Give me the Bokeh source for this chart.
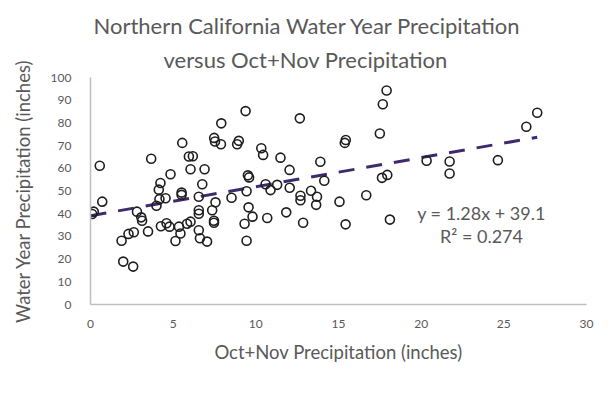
from bokeh.plotting import figure
from bokeh.models import Range1d, FixedTicker, Label, ColumnDataSource, Title
from bokeh.embed import file_html
from bokeh.resources import INLINE

# Oct+Nov precipitation (inches)
oct_nov = [0.10, 0.20, 0.56, 0.71, 1.88, 1.98, 2.30, 2.62, 2.58, 2.81,
           3.07, 3.12, 3.48, 3.67, 3.99, 4.17, 4.13, 4.23, 4.54, 4.26,
           4.60, 4.78, 4.84, 5.14, 5.35, 5.44, 5.51, 5.51, 5.55, 5.84,
           6.05, 6.05, 5.95, 6.19, 6.55, 6.55, 6.55, 6.55, 6.62, 6.76,
           6.90, 7.05, 7.36, 7.56, 7.47, 7.47, 7.48, 7.53, 7.89, 7.91,
           8.53, 8.87, 8.97, 9.38, 9.44, 9.52, 9.59, 9.56, 9.80, 9.32,
           9.44, 10.33, 10.44, 10.59, 10.69, 10.89, 11.29, 11.49, 11.84, 12.04,
           12.05, 12.66, 12.70, 12.70, 12.86, 13.34, 13.70, 13.65, 13.90, 14.14,
           15.06, 15.38, 15.44, 15.43, 16.68, 17.50, 17.63, 17.95, 17.68, 17.91,
           18.11, 20.33, 21.72, 21.72, 24.64, 26.36, 27.02]
# Water year precipitation (inches)
water_year = [39.9, 40.9, 61.1, 45.3, 28.1, 18.9, 31.1, 31.8, 16.7, 40.9,
              38.4, 36.9, 32.2, 64.2, 43.5, 46.4, 50.6, 53.5, 46.8, 34.5,
              35.8, 34.3, 57.4, 28.0, 34.3, 31.3, 48.3, 49.3, 71.2, 35.6,
              36.5, 59.6, 65.2, 65.3, 47.5, 41.5, 40.0, 32.7, 29.2, 53.0,
              59.6, 27.7, 41.5, 45.0, 36.9, 36.0, 73.4, 71.8, 70.6, 79.8,
              47.0, 70.6, 72.1, 85.2, 49.9, 56.9, 56.0, 42.8, 38.7, 35.6,
              28.1, 68.8, 65.9, 53.0, 38.1, 50.4, 52.7, 64.7, 40.6, 59.3,
              51.4, 82.0, 47.9, 45.9, 36.0, 50.1, 47.5, 43.9, 62.9, 54.5,
              45.3, 71.2, 72.5, 35.3, 48.1, 75.3, 55.8, 57.1, 88.2, 94.3,
              37.4, 63.3, 63.0, 57.7, 63.6, 78.3, 84.5]

slope = 1.28
intercept = 39.1
x_ticks = [0, 5, 10, 15, 20, 25, 30]
y_ticks = [0, 10, 20, 30, 40, 50, 60, 70, 80, 90, 100]
title_lines = ["Northern California Water Year Precipitation",
               "versus Oct+Nov Precipitation"]
eq_lines = ["y = 1.28x + 39.1", "R\u00b2 = 0.274"]

FONT = "Lato"
GRAY = "#595959"

p = figure(width=596, height=384, output_backend="svg", toolbar_location=None,
           x_range=Range1d(0, 30), y_range=Range1d(0, 100),
           min_border_left=90, min_border_right=10,
           min_border_top=77, min_border_bottom=80)
p.outline_line_color = None
p.xgrid.grid_line_color = None
p.ygrid.grid_line_color = None
p.background_fill_color = "white"
p.border_fill_color = "white"

# two-line title: the default title holds the top line, the added one sits below it
p.title.text = title_lines[0]
p.title.align = "left"
p.title.offset = 3
p.title.standoff = 0
p.title.text_font = FONT
p.title.text_font_size = "22px"
p.title.text_font_style = "normal"
p.title.text_color = GRAY
p.add_layout(Title(text=title_lines[1], align="left", offset=73, standoff=10,
                   text_font=FONT, text_font_size="22px",
                   text_font_style="normal", text_color=GRAY), "above")

for ax, ticks in ((p.xaxis[0], x_ticks), (p.yaxis[0], y_ticks)):
    ax.ticker = FixedTicker(ticks=ticks)
    ax.axis_line_color = "#bfbfbf"
    ax.axis_line_width = 1.5
    ax.major_tick_line_color = None
    ax.minor_tick_line_color = None
    ax.major_label_text_font = FONT
    ax.major_label_text_font_size = "12px"
    ax.major_label_text_color = GRAY
    ax.axis_label_text_font = FONT
    ax.axis_label_text_font_size = "18.5px"
    ax.axis_label_text_color = GRAY
    ax.axis_label_text_font_style = "normal"

p.xaxis.axis_label = "Oct+Nov Precipitation (inches)"
p.yaxis.axis_label = "Water Year Precipitation (inches)"
p.xaxis.major_label_standoff = 9
p.xaxis.axis_label_standoff = 10
p.yaxis.major_label_standoff = 13
p.yaxis.axis_label_standoff = 14

x0, x1 = 0.0, max(oct_nov)
p.line([x0, x1], [slope * x0 + intercept, slope * x1 + intercept],
       line_color="#3d2b6e", line_width=3, line_dash="16 12")

src = ColumnDataSource(dict(x=oct_nov, y=water_year))
p.scatter("x", "y", source=src, marker="circle", size=9,
          fill_color=None, line_color="#1e1e1e", line_width=1.6)

# regression equation
p.add_layout(Label(x=23.65, y=40.4, text=eq_lines[0], text_align="center",
                   text_baseline="middle", text_font=FONT, text_font_size="18px",
                   text_color=GRAY))
p.add_layout(Label(x=23.65, y=30.3, text=eq_lines[1], text_align="center",
                   text_baseline="middle", text_font=FONT, text_font_size="18px",
                   text_color=GRAY))

open("out.html", "w").write(file_html(p, INLINE))
